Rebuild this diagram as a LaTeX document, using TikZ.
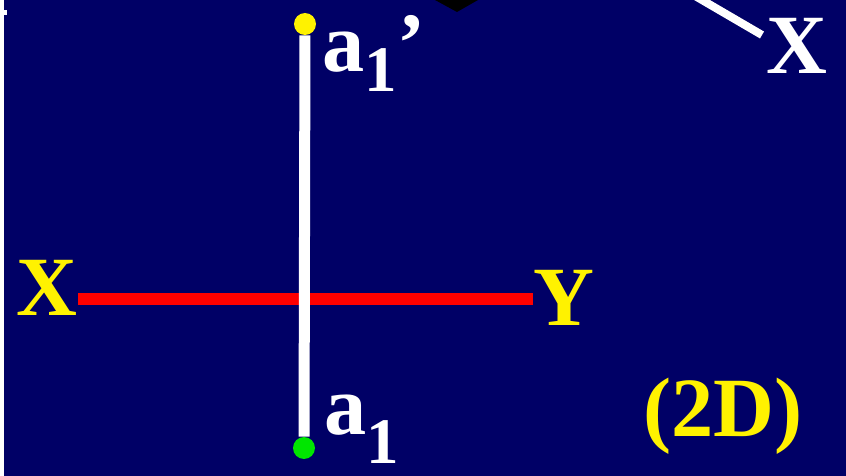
\documentclass[tikz,border=0pt]{standalone}
\usepackage{fontspec}
\setmainfont{Liberation Serif}
\definecolor{navy}{RGB}{0,0,102}
\definecolor{ptgreen}{RGB}{0,230,0}
\tikzset{
  axislabel/.style={text=yellow, inner sep=0pt, font=\fontsize{48}{48}\selectfont\bfseries},
  pointlabel/.style={text=white, inner sep=0pt, anchor=base west, font=\fontsize{48}{48}\selectfont\bfseries},
  endpoint/.style={circle, inner sep=0pt, minimum size=0.44cm}
}
\begin{document}
\begin{tikzpicture}[x=0.02cm,y=-0.02cm]
	\useasboundingbox (0,0) rectangle (846,476);
	\fill[navy] (0,0) rectangle (846,476);
	\fill[white] (0,0) rectangle (4,476);
	\fill[white] (4,10) rectangle (7,15);
	\fill[black] (435,0) -- (478,0) -- (457,12) -- cycle;

	% X-Y axis
	\node[axislabel, anchor=base east] (xl) at (78,316) {X};
	\node[axislabel, anchor=base west] (yl) at (533,326) {Y};
	\coordinate (axis) at (0,299);
	\draw[red, line width=0.24cm] (xl.east |- axis) -- (yl.west |- axis);

	% point a1 and a1'
	\node[endpoint, fill=yellow] (atop) at (305,24) {};
	\node[endpoint, fill=ptgreen] (abot) at (304,448) {};
	\draw[white, line width=0.22cm] (atop) -- (abot);
	\node[pointlabel] (atoplbl) at (322,72) {a\raisebox{-11pt}{\fontsize{37}{37}\selectfont 1}’};
	\node[pointlabel] (abotlbl) at (324,435) {a\raisebox{-16pt}{\fontsize{37}{37}\selectfont 1}};

	% top right
	\node[pointlabel] (xt) at (766,74) {X};
	\coordinate (lnend) at (762,35);
	\draw[white, line width=0.16cm] (lnend) -- ++(-72,-42);

	\node[axislabel, anchor=base west] (dim) at (643,437) {(2D)};
\end{tikzpicture}
\end{document}
